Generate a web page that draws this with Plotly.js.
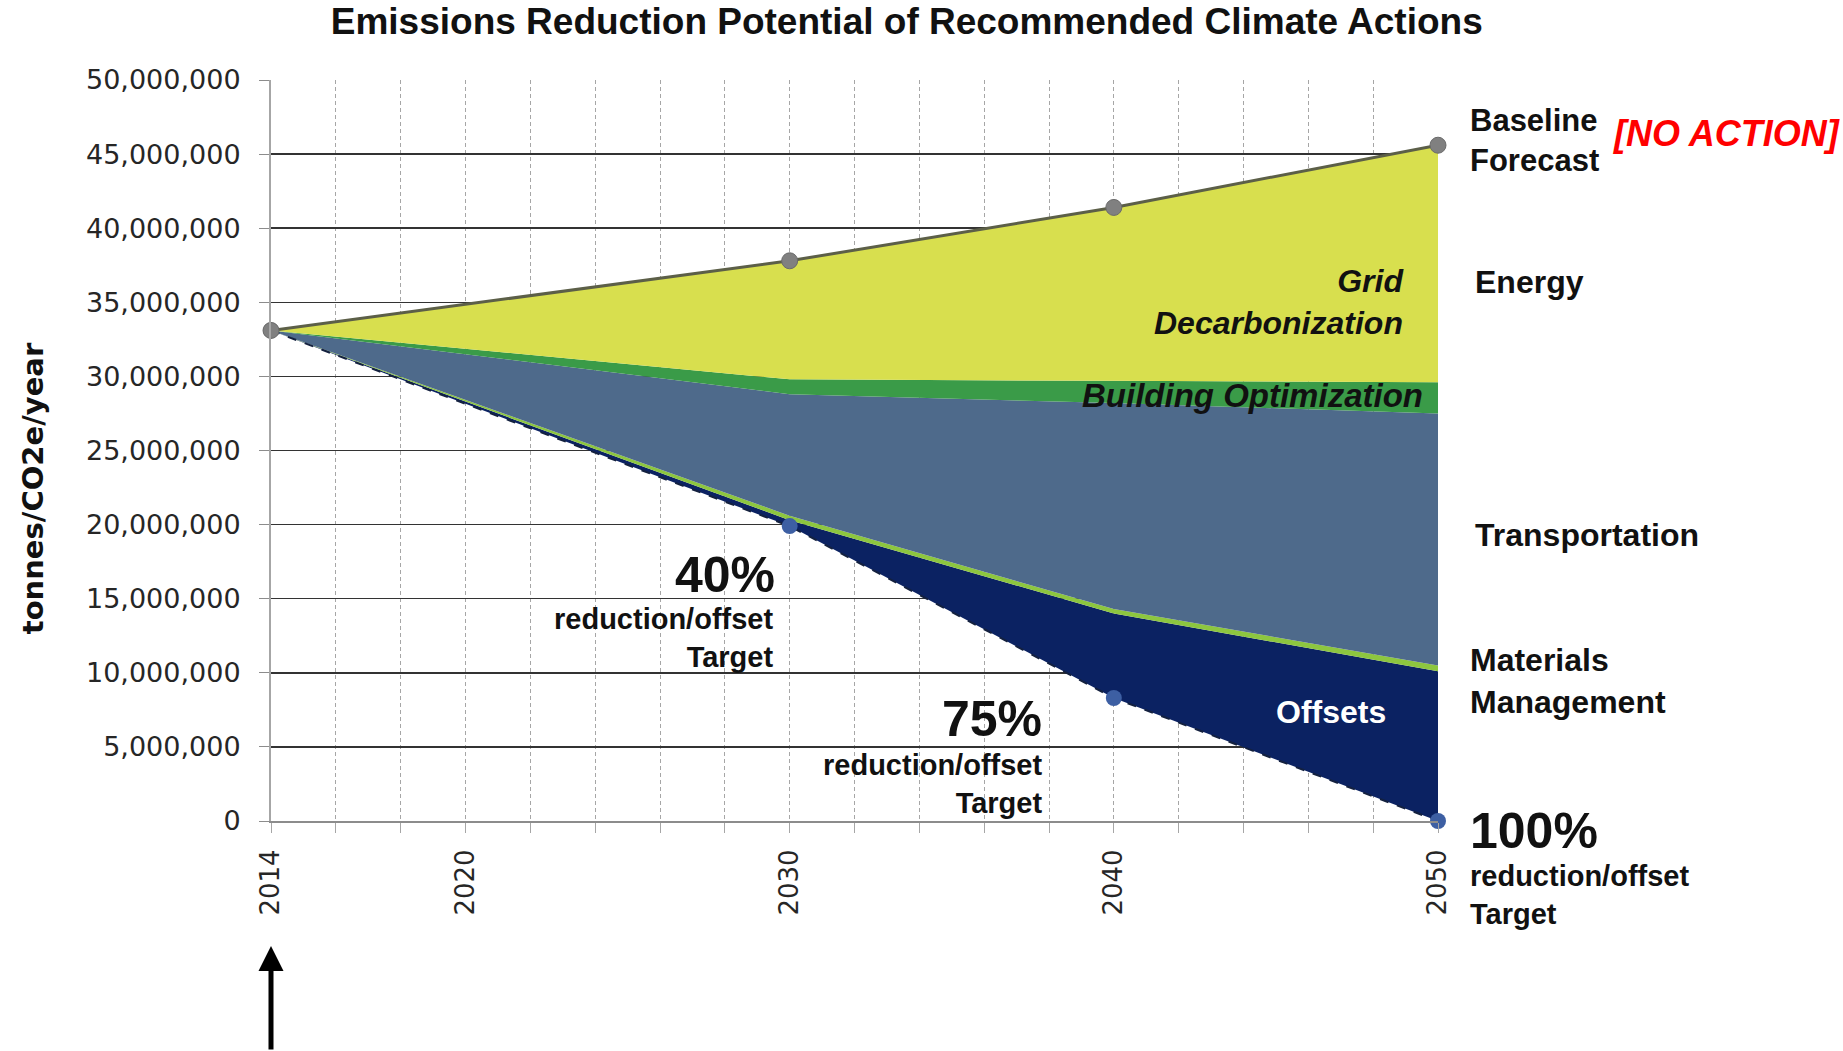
<!DOCTYPE html>
<html>
<head>
<meta charset="utf-8">
<script src="https://cdn.plot.ly/plotly-3.0.1.min.js"></script>
<style>html,body{margin:0;padding:0;background:#fff;}#chart{width:1843px;height:1051px;}</style>
</head>
<body>
<div id="chart"></div>
<script>
// ---- data (tonnes CO2e / year) ----
const years = [2014, 2030, 2040, 2050];
const baselineForecast = [33100000, 37800000, 41400000, 45600000];
const reductionTarget  = [33100000, 19900000, 8300000, 0];
// wedges stacked on top of the target line (bottom to top)
const offsets        = [0, 400000, 5700000, 10100000];
const materialsMgmt  = [0, 300000, 300000, 400000];
const transportation = [0, 8200000, 13900000, 17000000];
const buildingOpt    = [0, 1000000, 1500000, 2100000];
const gridDecarb     = [0, 8000000, 11700000, 16000000];

const xTickVals = [2014, 2016, 2018, 2020, 2022, 2024, 2026, 2028, 2030, 2032, 2034, 2036, 2038, 2040, 2042, 2044, 2046, 2048, 2050];
const xTickText = ['2014', '', '', '2020', '', '', '', '', '2030', '', '', '', '', '2040', '', '', '', '', '2050'];
const yTickVals = [0, 5000000, 10000000, 15000000, 20000000, 25000000, 30000000, 35000000, 40000000, 45000000, 50000000];

const stackTrace = (y, color) => ({
  x: years, y: y, type: 'scatter', mode: 'lines', stackgroup: 'one',
  line: {width: 0, color: color}, fillcolor: color, hoverinfo: 'skip'
});

const traces = [
  Object.assign(stackTrace(reductionTarget, 'rgba(0,0,0,0)'), {fillcolor: 'rgba(0,0,0,0)'}),
  stackTrace(offsets, '#0b2262'),
  stackTrace(materialsMgmt, '#8dc63f'),
  stackTrace(transportation, '#4e6a8b'),
  stackTrace(buildingOpt, '#3a9b48'),
  stackTrace(gridDecarb, '#d8df4e'),
  {
    x: years, y: reductionTarget, type: 'scatter', mode: 'lines', cliponaxis: false,
    line: {color: '#14213f', width: 2, dash: 'dash'},
    hoverinfo: 'skip'
  },
  {
    x: years, y: reductionTarget, type: 'scatter', mode: 'markers', cliponaxis: false,
    marker: {size: 16, color: ['#7f7f7f', '#3d5fa3', '#3d5fa3', '#3d5fa3'], line: {width: 0}},
    hoverinfo: 'skip'
  },
  {
    x: years, y: baselineForecast, type: 'scatter', mode: 'lines+markers', cliponaxis: false,
    line: {color: '#5c5f48', width: 3},
    marker: {size: 16, color: '#808080', line: {color: '#6a6a6a', width: 1}},
    hoverinfo: 'skip'
  }
];

const bold = 'Liberation Sans, Arial, sans-serif';
const ann = (o) => Object.assign({showarrow: false, font: {family: bold, size: 28, color: '#111'}}, o);

const annotations = [
  ann({x: 2049.0, y: 35050000, xref: 'x', yref: 'y', xanchor: 'right', yanchor: 'middle', align: 'right',
       text: '<b><i>Grid</i></b><br><b><i>Decarbonization</i></b>', font: {family: bold, size: 32, color: '#111'}}),
  ann({x: 2049.6, y: 28700000, xref: 'x', yref: 'y', xanchor: 'right', yanchor: 'middle',
       text: '<b><i>Building Optimization</i></b>', font: {family: bold, size: 33, color: '#111'}}),
  ann({x: 2046.7, y: 7350000, xref: 'x', yref: 'y', xanchor: 'center', yanchor: 'middle',
       text: '<b>Offsets</b>', font: {family: bold, size: 32, color: '#ffffff'}}),
  ann({x: 2029.6, y: 16600000, xref: 'x', yref: 'y', xanchor: 'right', yanchor: 'middle',
       text: '<b>40%</b>', font: {family: bold, size: 50, color: '#111'}}),
  ann({x: 2029.55, y: 12350000, xref: 'x', yref: 'y', xanchor: 'right', yanchor: 'middle', align: 'right',
       text: '<b>reduction/offset</b><br><b>Target</b>', font: {family: bold, size: 29, color: '#111'}}),
  ann({x: 2037.85, y: 6900000, xref: 'x', yref: 'y', xanchor: 'right', yanchor: 'middle',
       text: '<b>75%</b>', font: {family: bold, size: 50, color: '#111'}}),
  ann({x: 2037.85, y: 2530000, xref: 'x', yref: 'y', xanchor: 'right', yanchor: 'middle', align: 'right',
       text: '<b>reduction/offset</b><br><b>Target</b>', font: {family: bold, size: 29, color: '#111'}}),
  ann({x: 1.026, y: -0.0135, xref: 'paper', yref: 'paper', xanchor: 'left', yanchor: 'middle',
       text: '<b>100%</b>', font: {family: bold, size: 50, color: '#111'}}),
  ann({x: 1.026, y: -0.1, xref: 'paper', yref: 'paper', xanchor: 'left', yanchor: 'middle', align: 'left',
       text: '<b>reduction/offset</b><br><b>Target</b>', font: {family: bold, size: 29, color: '#111'}}),
  ann({x: 1.026, y: 0.918, xref: 'paper', yref: 'paper', xanchor: 'left', yanchor: 'middle', align: 'left',
       text: '<b>Baseline</b><br><b>Forecast</b>', font: {family: bold, size: 31, color: '#111'}}),
  ann({x: 1.148, y: 0.928, xref: 'paper', yref: 'paper', xanchor: 'left', yanchor: 'middle',
       text: '<b><i>[NO ACTION]</i></b>', font: {family: bold, size: 36, color: '#ff0000'}}),
  ann({x: 1.03, y: 0.727, xref: 'paper', yref: 'paper', xanchor: 'left', yanchor: 'middle',
       text: '<b>Energy</b>', font: {family: bold, size: 32, color: '#111'}}),
  ann({x: 1.03, y: 0.386, xref: 'paper', yref: 'paper', xanchor: 'left', yanchor: 'middle',
       text: '<b>Transportation</b>', font: {family: bold, size: 32, color: '#111'}}),
  ann({x: 1.026, y: 0.189, xref: 'paper', yref: 'paper', xanchor: 'left', yanchor: 'middle', align: 'left',
       text: '<b>Materials</b><br><b>Management</b>', font: {family: bold, size: 32, color: '#111'}}),
  ann({x: -0.204, y: 0.449, xref: 'paper', yref: 'paper', xanchor: 'center', yanchor: 'middle', textangle: -90,
       text: '<b>tonnes/CO2e/year</b>', font: {family: 'DejaVu Sans, Verdana, sans-serif', size: 29, color: '#111'}}),
  {x: 2014, y: -0.1687, xref: 'x', yref: 'paper', ax: 0, ay: 110, text: '', showarrow: true,
   arrowhead: 2, arrowsize: 1, arrowwidth: 5, arrowcolor: '#000'}
];

const layout = {
  width: 1843, height: 1051,
  margin: {l: 271, r: 405, t: 80, b: 230},
  paper_bgcolor: '#ffffff', plot_bgcolor: '#ffffff',
  showlegend: false,
  title: {text: '<b>Emissions Reduction Potential of Recommended Climate Actions</b>',
          x: 0.492, xanchor: 'center', y: 0.98, yanchor: 'middle',
          font: {family: bold, size: 37, color: '#111'}},
  xaxis: {
    range: [2014, 2050], tickmode: 'array', tickvals: xTickVals, ticktext: xTickText,
    tickangle: -90, showgrid: true, griddash: '4px,3px', gridcolor: '#a6a6a6', gridwidth: 1,
    ticks: 'outside', ticklen: 10, tickcolor: '#a6a6a6', tickwidth: 1,
    showline: true, linecolor: '#8c8c8c', linewidth: 2, zeroline: false,
    tickfont: {family: 'DejaVu Sans, Verdana, sans-serif', size: 26, color: '#262626'},
    ticklabelstandoff: 6, fixedrange: true
  },
  yaxis: {
    range: [0, 50000000], tickmode: 'array', tickvals: yTickVals, tickformat: ',d',
    showgrid: true, gridcolor: '#333333', gridwidth: 1.5,
    ticks: 'outside', ticklen: 10, tickcolor: '#8c8c8c', tickwidth: 1,
    showline: true, linecolor: '#a6a6a6', linewidth: 2, zeroline: false,
    tickfont: {family: 'DejaVu Sans, Verdana, sans-serif', size: 27, color: '#262626'},
    ticklabelstandoff: 13, fixedrange: true
  },
  annotations: annotations
};

Plotly.newPlot('chart', traces, layout, {displayModeBar: false, staticPlot: true});
</script>
</body>
</html>
